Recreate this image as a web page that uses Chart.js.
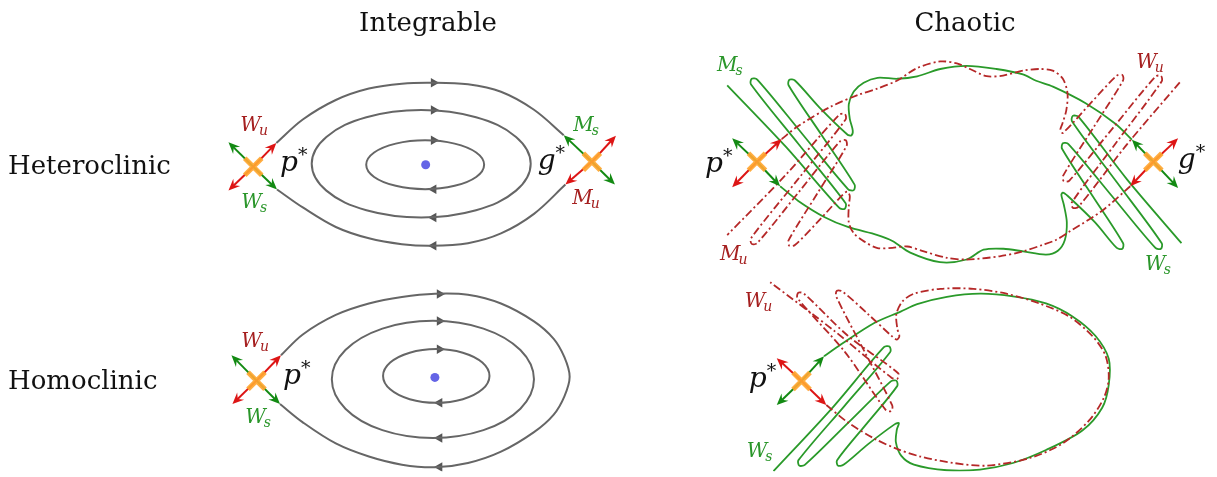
<!DOCTYPE html>
<html>
<head>
<meta charset="utf-8">
<title>Heteroclinic and homoclinic orbits</title>
<script src="https://cdn.jsdelivr.net/npm/chart.js@4.4.1/dist/chart.umd.min.js"></script>
<style>
  html, body { margin: 0; padding: 0; background: #fff; }
  #wrap { width: 1217px; height: 477px; }
</style>
</head>
<body>
<div id="wrap"><canvas id="chart" width="1217" height="477"></canvas></div>
<script>
// ---- data (diagram units: x right, y down) ----

// integrable, heteroclinic
const hetOuterTop = [[273.3,140.7],[300,116.7],[333.3,96.7],[366.7,85],[400,80],[430,79],[466.7,80.7],[500,88.3],[533.3,106.7],[563.3,132.7]];
const hetOuterBottom = [[274,188.3],[300,206.7],[333.3,226.7],[366.7,238.3],[400,244.3],[430,246],[466.7,243.3],[500,233.3],[533.3,213.3],[565,183.3]];
const hetMiddle = [[309,162],[323.8,134.5],[364.2,114.4],[419.5,107],[474.8,114.4],[515.2,134.5],[530,162],[515.2,189.5],[474.8,209.6],[419.5,217],[364.2,209.6],[323.8,189.5]];
const hetInner = [[364,163],[372,150.5],[393.8,141.4],[423.5,138],[453.2,141.4],[475,150.5],[483,163],[475,175.5],[453.2,184.6],[423.5,188],[393.8,184.6],[372,175.5]];

// integrable, homoclinic
const homOuter = [[278,358],[300,336.7],[333.3,316.7],[366.7,305],[400,298.3],[433.3,295],[466.7,296],[500,305],[533.3,323.3],[553,341],[564,360],[569.3,380],[564,400],[553,419],[533.3,436.7],[500,456.7],[466.7,468.3],[433.3,472.7],[400,470],[366.7,461.7],[333.3,448.3],[300,426.7],[277,408]];
const homMiddle = [[329.3,382.7],[343,352.7],[380.3,330.7],[431.3,322.7],[482.3,330.7],[519.6,352.7],[533.3,382.7],[519.6,412.7],[482.3,434.7],[431.3,442.7],[380.3,434.7],[343,412.7]];
const homInner = [[381,379.2],[388.2,365.5],[407.9,355.4],[434.7,351.7],[461.5,355.4],[481.2,365.5],[488.4,379.2],[481.2,392.9],[461.5,403],[434.7,406.7],[407.9,403],[388.2,392.9]];

const orbitCentres = [[424,163],[433.3,380.7]];
const flowRight = [[432,79],[432,107],[432,138],[438,295.2],[438,322.9],[438,351.9]];
const flowLeft = [[432,188],[432,217],[432,246],[438,406.6],[438,442.6],[438,472.5]];

// chaotic, heteroclinic
const chHetGreenTop = [[1136.7,137.3],[1120,121],[1090,100],[1057,83],[1040,77],[1026.7,70.5],[1000,65],[970,61.7],[943.3,65],[920,72.5],[900,75],[880,74],[866,79],[856,88],[851,101],[852,116],[855,128],[853.5,133],[849.5,132],
  [821.5,104.5],[796.6,76.8],[791,76],[790.2,81.6],
  [823.5,132.5],[856.8,183.4],[856,189],[850.4,188.2],
  [804.5,132],[758.6,75.8],[753,75],[752.2,80.6],
  [800,141.5],[847.8,202.4],[847,208],[841.4,207.2],
  [787.6,144.8],[728.3,81.7]];
const chHetGreenBottom = [[781.7,185],[800,200],[826.7,216.7],[850,226.7],[880,235],[895,241],[913,253],[943,262.7],[970,260],[987,250],[1007,249],[1027,251.7],[1050,255],[1062,251],[1069,240],[1071,222],[1068,204],[1065.5,194],[1067,191.5],[1072,195],
  [1099.5,222],[1121.4,248.2],[1127,249],[1127.8,243.4],
  [1097,195],[1066.2,146.6],[1067,141],[1072.6,141.8],
  [1116.5,195],[1160.4,248.2],[1166,249],[1166.8,243.4],
  [1121.5,181],[1076.2,118.6],[1077,113],[1082.6,113.8],
  [1131.9,178.2],[1186.7,243.3]];
const chHetRedTop = [[783.3,136.7],[800,123.3],[833.3,103.3],[860,91.7],[880,85],[900,76.7],[920,64],[943.3,57.3],[960,59.3],[973.3,65],[990,72.3],[1006.7,71.7],[1026.7,66.7],[1043.3,65],[1056.7,66.7],[1067,75],[1071.7,90],[1070.5,107],[1066.5,121],[1064.5,127],[1067,130.5],
  [1095.5,99.5],[1121.4,71.8],[1127,71],[1127.8,76.6],
  [1097.5,125.5],[1067.2,174.4],[1068,180],[1073.6,179.2],
  [1117,126],[1160.4,72.8],[1166,72],[1166.8,77.6],
  [1121.5,139.5],[1076.2,201.4],[1077,207],[1082.6,206.2],
  [1131.9,141.9],[1186.7,76.7]];
const chHetRedBottom = [[1135,185],[1106.7,210],[1073.3,231.7],[1060,240],[1046.7,245],[1026.7,251.7],[1003.3,256.7],[970,260],[950,258.3],[926.7,251.7],[910,246.7],[895,248],[880,248.3],[866.7,241.7],[856,233],[851,222],[851,205],[852,195],[849.5,190.5],[845,193.5],
  [821.5,219.5],[796.6,245.2],[791,246],[790.2,240.4],
  [819.5,192],[848.8,143.6],[848,138],[842.4,138.8],
  [800.5,191],[758.6,243.2],[753,244],[752.2,238.4],
  [800,177.5],[847.8,116.6],[847,111],[841.4,111.8],
  [787.7,173],[728.3,235]];

// chaotic, homoclinic
const chHomGreen = [[826,359],[843.3,346.7],[876.7,325],[903.3,313.3],[920,305.7],[950,298.3],[983.3,295],[1016.7,297.7],[1050,305],[1076.7,318.3],[1100,338.3],[1113.3,361.7],[1113.3,388.3],[1106.7,411.7],[1086.7,435],[1050,455],[1016.7,468.3],[983.3,475],[950,475.7],[916.7,470],[904,461],[898.5,447],[899.5,434],[901.5,427.5],[897.5,428.5],
  [870.5,449],[845.6,470.2],[840,471],[839.2,465.4],
  [869.5,427.5],[899.8,389.6],[899,384],[893.4,384.8],
  [850,427.5],[806.6,470.2],[801,471],[800.2,465.4],
  [846.5,410],[892.8,354.6],[892,349],[886.4,349.8],
  [833.5,412.9],[775,476.7]];
const chHomRed = [[828.3,409],[850,426.7],[876.7,443.3],[898.3,453.3],[923.3,461.7],[956.7,468.3],[990,471],[1033.3,463.3],[1066.7,448.3],[1093.3,425],[1108.3,401.7],[1113.3,381.7],[1110,358.3],[1096.7,338.3],[1073.3,318.3],[1043.3,305],[1010,295],[976.7,290],[943.3,290],[916.7,295],[905,303],[899,316],[900,331],[902,338.5],[899.5,342],[895,339],
  [870.5,316],[844.6,292.8],[839,292],[838.2,297.6],
  [866.5,353.5],[894.8,409.4],[894,415],[888.4,414.2],
  [847,354.5],[799.2,299.6],[800,294],[805.6,294.8],
  [850,338],[900.8,376.4],[900,382],[894.4,381.2],
  [835.9,332.7],[771.7,283.3]];

// saddle points and their manifold arrows [cx, cy, tipX, tipY]
const saddlePoints = [[250,165],[591.7,160],[253.3,384],[758.3,160],[1158.3,160],[803.3,384.3]];
const greenArrows = [
  [250,165,225,140],[250,165,274,188.3],
  [591.7,160,563.3,132.7],[591.7,160,615,183.3],
  [253.3,384,228,358],[253.3,384,277,408],
  [758.3,160,733.3,136],[758.3,160,781.7,185],
  [1158.3,160,1136.7,137.3],[1158.3,160,1183.3,186.7],
  [803.3,384.3,826,359],[803.3,384.3,778.3,409]
];
const redArrows = [
  [250,165,273.3,140.7],[250,165,225,189.3],
  [591.7,160,616,133.3],[591.7,160,565,183.3],
  [253.3,384,278,358],[253.3,384,229,408],
  [758.3,160,783.3,136.7],[758.3,160,733.3,186],
  [1158.3,160,1183.3,136],[1158.3,160,1135,185],
  [803.3,384.3,778.3,361],[803.3,384.3,828.3,409]
];

// ---- styling ----
const GREY = '#666666';
const CH_GREEN = '#2a9a2a';
const CH_RED = '#b52828';
const ARROW_GREEN = '#138a13';
const ARROW_RED = '#dd1515';
const LABEL_RED = '#a51f1f';
const LABEL_GREEN = '#2a962a';

// text annotations: [main, sub, sup, x, y, colour]
const mathLabels = [
  ['W','u','',237,128,LABEL_RED], ['W','s','',238,207,LABEL_GREEN],
  ['p','','*',277,169,'#111'], ['g','','*',537,167,'#111'],
  ['M','s','',573,128,LABEL_GREEN], ['M','u','',572,203,LABEL_RED],
  ['W','u','',238,350,LABEL_RED], ['W','s','',242,427,LABEL_GREEN],
  ['p','','*',280,387,'#111'],
  ['M','s','',718,67,LABEL_GREEN], ['M','u','',721,261,LABEL_RED],
  ['W','u','',1141,64,LABEL_RED], ['W','s','',1150,271,LABEL_GREEN],
  ['p','','*',706,170,'#111'], ['g','','*',1183,166,'#111'],
  ['W','u','',746,309,LABEL_RED], ['W','s','',748,462,LABEL_GREEN],
  ['p','','*',750,391,'#111']
];

const pts = arr => arr.map(([x, y]) => ({x, y}));

// closed curve: pad with wrap-around neighbours, hide the padding segments
function closedLine(arr, color) {
  const data = pts([arr[arr.length - 1], ...arr, arr[0], arr[1]]);
  const n = data.length;
  return {
    data, showLine: true, borderColor: color, borderWidth: 2, pointRadius: 0, tension: 0.38,
    segment: { borderColor: c => (c.p0DataIndex === 0 || c.p1DataIndex === n - 1) ? 'rgba(0,0,0,0)' : undefined }
  };
}
function openLine(arr, color, width, dash, tension) {
  return { data: pts(arr), showLine: true, borderColor: color, borderWidth: width, pointRadius: 0,
           tension: tension === undefined ? 0.35 : tension, borderDash: dash || [] };
}

const DASHDOT = [8, 3, 2, 3];
const datasets = [
  openLine(hetOuterTop, GREY, 2), openLine(hetOuterBottom, GREY, 2),
  closedLine(hetMiddle, GREY), closedLine(hetInner, GREY),
  openLine(homOuter, GREY, 2),
  closedLine(homMiddle, GREY), closedLine(homInner, GREY),
  { data: pts(orbitCentres), pointRadius: 4.5, pointBackgroundColor: '#6464e6', pointBorderWidth: 0 },
  { data: pts(flowRight), pointStyle: 'triangle', rotation: 90, pointRadius: 5.5, pointBackgroundColor: '#555', pointBorderWidth: 0 },
  { data: pts(flowLeft), pointStyle: 'triangle', rotation: -90, pointRadius: 5.5, pointBackgroundColor: '#555', pointBorderWidth: 0 },
  openLine(chHetRedTop, CH_RED, 1.8, DASHDOT, 0.3),
  openLine(chHetRedBottom, CH_RED, 1.8, DASHDOT, 0.3),
  openLine(chHomRed, CH_RED, 1.8, DASHDOT, 0.3),
  openLine(chHetGreenTop, CH_GREEN, 1.8, null, 0.3),
  openLine(chHetGreenBottom, CH_GREEN, 1.8, null, 0.3),
  openLine(chHomGreen, CH_GREEN, 1.8, null, 0.3)
];

const diagram = {
  id: 'diagram',
  afterDatasetsDraw(chart) {
    const ctx = chart.ctx;
    const X = v => chart.scales.x.getPixelForValue(v);
    const Y = v => chart.scales.y.getPixelForValue(v);

    function arrow(a, color) {
      const x0 = X(a[0]), y0 = Y(a[1]), x1 = X(a[2]), y1 = Y(a[3]);
      const len = Math.hypot(x1 - x0, y1 - y0), ux = (x1 - x0) / len, uy = (y1 - y0) / len;
      const hl = 11.5, hw = 5;
      ctx.strokeStyle = color; ctx.fillStyle = color; ctx.lineWidth = 2;
      ctx.beginPath(); ctx.moveTo(x0, y0); ctx.lineTo(x1 - ux * hl * 0.6, y1 - uy * hl * 0.6); ctx.stroke();
      ctx.beginPath();
      ctx.moveTo(x1, y1);
      ctx.lineTo(x1 - ux * hl - uy * hw, y1 - uy * hl + ux * hw);
      ctx.lineTo(x1 - ux * hl * 0.65, y1 - uy * hl * 0.65);
      ctx.lineTo(x1 - ux * hl + uy * hw, y1 - uy * hl - ux * hw);
      ctx.closePath(); ctx.fill();
    }

    ctx.save();
    greenArrows.forEach(a => arrow(a, ARROW_GREEN));
    redArrows.forEach(a => arrow(a, ARROW_RED));

    ctx.strokeStyle = 'rgba(255,166,48,0.92)';
    ctx.lineWidth = 5;
    saddlePoints.forEach(([sx, sy]) => {
      const cx = X(sx), cy = Y(sy), r = 8.5;
      ctx.beginPath();
      ctx.moveTo(cx - r, cy - r); ctx.lineTo(cx + r, cy + r);
      ctx.moveTo(cx + r, cy - r); ctx.lineTo(cx - r, cy + r);
      ctx.stroke();
    });

    // titles and row labels
    ctx.fillStyle = '#111';
    ctx.textBaseline = 'alphabetic';
    ctx.font = '26px "DejaVu Serif"';
    ctx.textAlign = 'center';
    ctx.fillText('Integrable', 428, 31);
    ctx.fillText('Chaotic', 965, 31);
    ctx.textAlign = 'left';
    ctx.fillText('Heteroclinic', 8, 174);
    ctx.fillText('Homoclinic', 8, 389);

    // math labels
    mathLabels.forEach(([m, sub, sup, x, y, color]) => {
      const big = (m === 'p' || m === 'g');
      ctx.fillStyle = color;
      ctx.font = 'italic ' + (big ? 28 : 20) + 'px "DejaVu Serif"';
      ctx.fillText(m, X(x), Y(y));
      const w = ctx.measureText(m).width;
      if (sub) {
        ctx.font = 'italic 14px "DejaVu Serif"';
        ctx.fillText(sub, X(x) + w - 2, Y(y) + 4);
      }
      if (sup) {
        ctx.font = '19px "DejaVu Serif"';
        ctx.fillText(sup, X(x) + w, Y(y) - 10);
      }
    });
    ctx.restore();
  }
};

new Chart(document.getElementById('chart'), {
  type: 'scatter',
  data: { datasets },
  options: {
    responsive: false,
    animation: false,
    events: [],
    layout: { padding: 0 },
    plugins: { legend: { display: false }, tooltip: { enabled: false } },
    scales: {
      x: { type: 'linear', min: 0, max: 1217, display: false },
      y: { type: 'linear', min: 0, max: 477, reverse: true, display: false }
    }
  },
  plugins: [diagram]
});
</script>
</body>
</html>
